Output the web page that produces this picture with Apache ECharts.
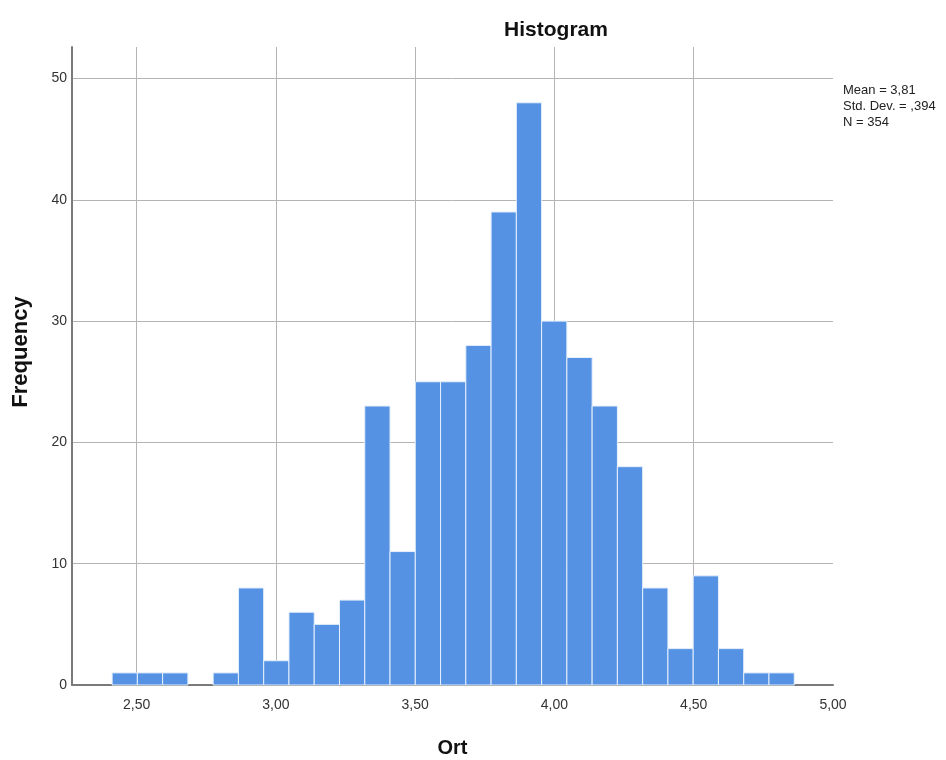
<!DOCTYPE html>
<html>
<head>
<meta charset="utf-8">
<script src="https://cdn.jsdelivr.net/npm/echarts@6/dist/echarts.min.js"></script>
<style>
html, body { margin: 0; padding: 0; background: #fff; }
#chart { width: 946px; height: 760px; }
</style>
</head>
<body>
<div id="chart"></div>
<script>
// histogram bins: first bin edge, bin width, counts per bin
var binStart = 2.412;
var binWidth = 0.0907;
var counts = [1, 1, 1, 0, 1, 8, 2, 6, 5, 7, 23, 11, 25, 25, 28, 39, 48, 30, 27, 23, 18, 8, 3, 9, 3, 1, 1];
var xTicks = [2.5, 3.0, 3.5, 4.0, 4.5, 5.0];
var xGrid = [2.5, 3.0, 3.5, 4.0, 4.5];
var yTicks = [0, 10, 20, 30, 40, 50];
var statsLines = ['Mean = 3,81', 'Std. Dev. = ,394', 'N = 354'];

var font = 'Liberation Sans, Arial, sans-serif';

var bins = counts.map(function(c, i) {
	return [binStart + i * binWidth, binStart + (i + 1) * binWidth, c];
});

var myChart = echarts.init(document.getElementById('chart'));
var option = {
	animation: false,
	backgroundColor: '#fff',
	title: {
		text: 'Histogram',
		left: 551,
		top: 15,
		textAlign: 'center',
		textStyle: { fontFamily: font, fontSize: 21, fontWeight: 'bold', color: '#111' }
	},
	graphic: [{
		type: 'text',
		left: 843,
		top: 82,
		style: {
			text: statsLines.join('\n'),
			font: '13px ' + font,
			fill: '#222',
			lineHeight: 16
		}
	}, {
		// y axis title, placed like the SPSS output
		type: 'text',
		x: 21,
		y: 352,
		rotation: Math.PI / 2,
		style: {
			text: 'Frequency',
			font: 'bold 22px ' + font,
			fill: '#111',
			align: 'center',
			verticalAlign: 'middle'
		}
	}],
	grid: { left: 72, right: 113, top: 47, bottom: 75, outerBoundsMode: 'none' },
	xAxis: {
		type: 'value',
		min: 2.268,
		max: 5.0,
		name: 'Ort',
		nameLocation: 'middle',
		nameGap: 53,
		nameTextStyle: { fontFamily: font, fontSize: 20, fontWeight: 'bold', color: '#111' },
		axisLine: { show: true, lineStyle: { color: '#7a7a7a', width: 2 } },
		axisTick: { show: false, customValues: xGrid },
		splitLine: { show: true, lineStyle: { color: '#b4b4b4', width: 1 } },
		axisLabel: {
			margin: 13,
			fontFamily: font,
			fontSize: 14,
			color: '#333',
			customValues: xTicks,
			formatter: function(v) {
				return v.toFixed(2).replace('.', ',');
			}
		}
	},
	yAxis: {
		type: 'value',
		min: 0,
		max: 52.6,
		axisLine: { show: true, lineStyle: { color: '#7a7a7a', width: 2 } },
		axisTick: { show: false, customValues: yTicks },
		splitLine: { show: true, lineStyle: { color: '#b4b4b4', width: 1 } },
		axisLabel: {
			margin: 5,
			fontFamily: font,
			fontSize: 14,
			color: '#333',
			customValues: yTicks
		}
	},
	series: [{
		type: 'custom',
		data: bins,
		renderItem: function(params, api) {
			var h = api.value(2);
			if (!h) return;
			var p0 = api.coord([api.value(0), h]);
			var p1 = api.coord([api.value(1), 0]);
			return {
				type: 'rect',
				shape: { x: p0[0], y: p0[1], width: p1[0] - p0[0], height: p1[1] - p0[1] },
				style: { fill: '#5592e3', stroke: '#e6f0fc', lineWidth: 1 }
			};
		},
		encode: { x: [0, 1], y: 2 }
	}]
};
myChart.setOption(option);
</script>
</body>
</html>
